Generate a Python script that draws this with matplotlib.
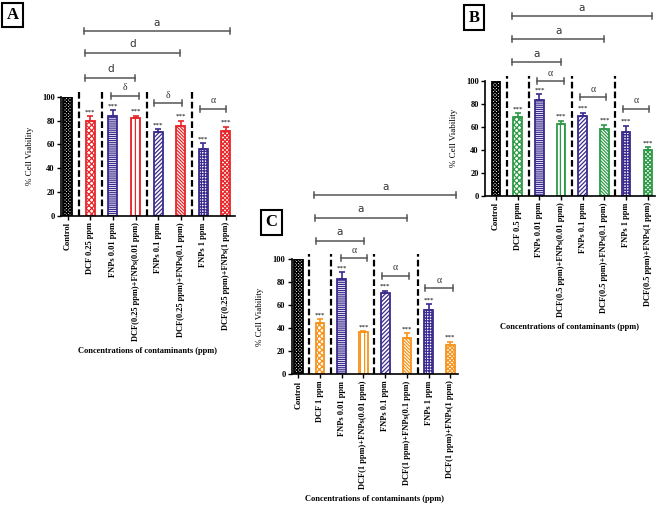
import matplotlib
matplotlib.use("Agg")
import matplotlib.pyplot as plt

plt.rcParams['hatch.linewidth'] = 0.9
SERIF = 'Liberation Serif'

# Values (mean % viability and upper error)
labels_a = ["Control", "DCF 0.25 ppm", "FNPs 0.01 ppm", "DCF(0.25 ppm)+FNPs(0.01 ppm)",
            "FNPs 0.1 ppm", "DCF(0.25 ppm)+FNPs(0.1 ppm)", "FNPs 1 ppm", "DCF(0.25 ppm)+FNPs(1 ppm)"]
values_a = [100, 79.6, 83.5, 82.4, 70.4, 75.7, 56.2, 71.2]
errors_a = [0, 4.2, 5.3, 1.7, 2.2, 4.2, 4.7, 3.7]

labels_b = ["Control", "DCF 0.5 ppm", "FNPs 0.01 ppm", "DCF(0.5 ppm)+FNPs(0.01 ppm)",
            "FNPs 0.1 ppm", "DCF(0.5 ppm)+FNPs(0.1 ppm)", "FNPs 1 ppm", "DCF(0.5 ppm)+FNPs(1 ppm)"]
values_b = [100, 68.8, 83.3, 62.4, 69.7, 58.1, 55.5, 40.2]
errors_b = [0, 2.9, 5.2, 2.9, 2.6, 3.9, 5.5, 2.0]

labels_c = ["Control", "DCF 1 ppm", "FNPs 0.01 ppm", "DCF(1 ppm)+FNPs(0.01 ppm)",
            "FNPs 0.1 ppm", "DCF(1 ppm)+FNPs(0.1 ppm)", "FNPs 1 ppm", "DCF(1 ppm)+FNPs(1 ppm)"]
values_c = [100, 44.2, 82.7, 36.4, 70.2, 31.5, 55.8, 25.1]
errors_c = [0, 3.5, 5.8, 0.9, 2.3, 4.0, 4.9, 3.2]

# significance brackets: (start bar, end bar, height, symbol)
brackets_a = [(0.72, 7.18, 155, 'a'), (0.78, 4.97, 136.6, 'd'), (0.78, 2.98, 115.7, 'd'),
              (1.92, 3.15, 100.8, 'δ'), (3.82, 5.06, 94.5, 'δ'), (5.85, 7.0, 89.7, 'α')]
brackets_b = [(0.72, 7.19, 156, 'a'), (0.75, 4.98, 136, 'a'), (0.75, 3.0, 116, 'a'),
              (1.89, 3.13, 99.7, 'α'), (3.87, 5.07, 85.6, 'α'), (5.85, 7.05, 75.5, 'α')]
brackets_c = [(0.74, 7.27, 155.5, 'a'), (0.78, 5.0, 135.8, 'a'), (0.8, 3.03, 115.9, 'a'),
              (1.95, 3.18, 100.6, 'α'), (3.86, 5.1, 85.3, 'α'), (5.84, 7.1, 74.6, 'α')]

purple = '#3b2b8e'
hatches = ['xxxxxxxxxx', 'xxxxxx', '--------', '||||', '////////',
           '\\\\\\\\\\\\\\\\\\\\', '++++++', 'xxxxxxxx']


def draw_panel(fig, rect, xlim, labels, values, errors, dcf_color, brackets, letter, letter_pos):
    ax = fig.add_axes(rect)
    x = list(range(len(values)))
    edge = ['black', dcf_color, purple, dcf_color, purple, dcf_color, purple, dcf_color]
    for i in x:
        ax.bar(i, values[i], width=0.4, color='white', edgecolor=edge[i],
               hatch=hatches[i], linewidth=1.3, zorder=2)
        if errors[i] > 0:
            ax.errorbar(i, values[i], yerr=[[0], [errors[i]]], ecolor=edge[i],
                        elinewidth=1.2, capsize=2.5, capthick=1.2, zorder=3)
            ax.text(i, values[i] + errors[i] + 1.5, '***', ha='center', va='bottom',
                    fontsize=5, family=SERIF)
    ax.vlines([0.5, 1.5, 3.5, 5.5], 0, 104, colors='black', linestyles=(0, (3, 1.4)),
              linewidth=1.6, clip_on=False, zorder=1)
    for x1, x2, y, s in brackets:
        ax.plot([x1, x2], [y, y], color='#555555', lw=1.1, clip_on=False)
        ax.plot([x1, x1], [y - 2.5, y + 2.5], color='#555555', lw=1.1, clip_on=False)
        ax.plot([x2, x2], [y - 2.5, y + 2.5], color='#555555', lw=1.1, clip_on=False)
        if s in 'ad':
            ax.text((x1 + x2) / 2, y + 3, s, ha='center', va='bottom', fontsize=7.5,
                    family='DejaVu Sans', color='#333333')
        else:
            ax.text((x1 + x2) / 2, y + 3, s, ha='center', va='bottom', fontsize=7,
                    family=SERIF, color='#333333')
    ax.set_xlim(*xlim)
    ax.set_ylim(0, 100)
    ax.set_yticks([0, 20, 40, 60, 80, 100])
    ax.set_xticks(x)
    ax.set_xticklabels(labels, rotation=90, fontsize=6, family=SERIF, fontweight='bold')
    for t in ax.get_yticklabels():
        t.set_family(SERIF)
        t.set_fontweight('bold')
        t.set_fontsize(6)
    ax.tick_params(length=3, width=1, pad=1.5)
    ax.spines['top'].set_visible(False)
    ax.spines['right'].set_visible(False)
    ax.spines['left'].set_linewidth(1.2)
    ax.spines['bottom'].set_linewidth(1.2)
    ax.set_ylabel('% Cell Viability', fontsize=6.5, family=SERIF, labelpad=6)
    ax.set_xlabel('Concentrations of contaminants (ppm)', fontsize=6, family=SERIF,
                  fontweight='bold', labelpad=4)
    fig.text(letter_pos[0], letter_pos[1], letter, fontsize=12, family=SERIF,
             fontweight='bold', ha='center', va='center',
             bbox=dict(boxstyle='square,pad=0.25', fc='white', ec='black', lw=1.5))
    return ax


fig = plt.figure(figsize=(6.61, 5.08), dpi=100)
W, H = 661, 508


def rect(left, right, top, bottom):
    return [left / W, 1 - bottom / H, (right - left) / W, (bottom - top) / H]


draw_panel(fig, rect(61, 235, 96.7, 216), (-0.3, 7.4), labels_a, values_a, errors_a,
           '#e8262a', brackets_a, 'A', (12.5 / W, 1 - 15 / H))
draw_panel(fig, rect(485, 655, 80.7, 196), (-0.51, 7.33), labels_b, values_b, errors_b,
           '#2e9a48', brackets_b, 'B', (474 / W, 1 - 17.5 / H))
draw_panel(fig, rect(291.7, 458, 259, 374.3), (-0.3, 7.35), labels_c, values_c, errors_c,
           '#f7941d', brackets_c, 'C', (271.5 / W, 1 - 222.5 / H))

fig.savefig('out.png', dpi=100)
